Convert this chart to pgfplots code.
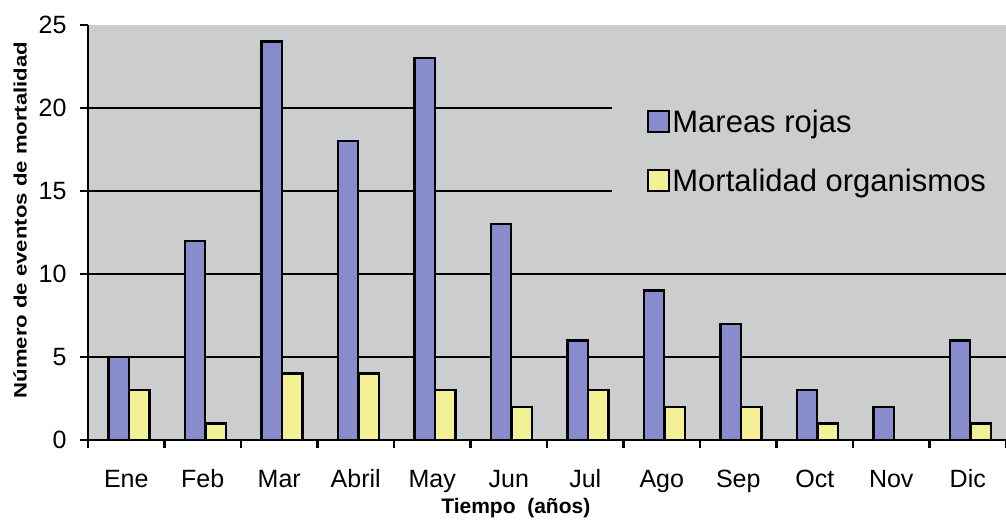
\documentclass[border=0pt]{standalone}
\usepackage{pgfplots}
\pgfplotsset{compat=1.18}
\usepackage{fontspec}
\setmainfont{Liberation Sans}
\definecolor{bgc}{RGB}{204,205,206}
\definecolor{barblue}{RGB}{136,140,204}
\definecolor{baryel}{RGB}{244,240,150}
\begin{document}
\begin{tikzpicture}[x=1pt,y=1pt]
\useasboundingbox (-88,-85) rectangle (918,440);
\begin{axis}[
  at={(0,0)}, anchor=south west,
  scale only axis, width=918pt, height=415pt,
  xmin=-0.5, xmax=11.5, ymin=0, ymax=25,
  ybar, bar width=0.265,
  axis x line*=bottom, axis y line*=left,
  axis line style={line width=2.6pt, black, -},
  axis background/.style={fill=bgc},
  tick align=outside,
  major tick length=8pt,
  tick style={black, line width=2.6pt},
  xtick={-0.5,0.5,...,11.5},
  x tick label as interval,
  xticklabels={Ene,Feb,Mar,Abril,May,Jun,Jul,Ago,Sep,Oct,Nov,Dic},
  xticklabel style={anchor=base, yshift=-39pt},
  ytick={0,5,...,25},
  extra y ticks={5,10,15,20},
  extra y tick labels={},
  extra y tick style={grid=major, major tick length=0pt},
  major grid style={black, line width=2.2pt},
  /pgf/number format/assume math mode=true,
  ticklabel style={font=\fontsize{25}{30}\selectfont},
  yticklabel style={xshift=-10pt},
  xlabel={Tiempo\ \ (años)},
  xlabel style={font=\fontsize{21}{25}\selectfont\bfseries, at={(axis description cs:0.466,-0.176)}, anchor=base},
  ylabel={\scalebox{1.23}[1]{Número de eventos de mortalidad}},
  ylabel style={font=\fontsize{18}{22}\selectfont\bfseries, at={(axis description cs:-0.074,0.53)}, anchor=center},
  legend style={at={(0.571,0.815)}, anchor=north west, fill=bgc, draw=none,
    font=\fontsize{31}{36}\selectfont, row sep=31pt, inner xsep=35pt, inner ysep=6pt,
    legend cell align=left},
  legend image code/.code={\draw[#1,draw=black,line width=2pt] (0pt,-10.5pt) rectangle (21pt,10.5pt);},
]
\addplot[fill=barblue, draw=black, line width=2.4pt, bar shift=-0.1] coordinates {
(0,5) (1,12) (2,24) (3,18) (4,23) (5,13) (6,6) (7,9) (8,7) (9,3) (10,2) (11,6)};
\addplot[fill=baryel, draw=black, line width=2.4pt, bar shift=0.17] coordinates {
(0,3) (1,1) (2,4) (3,4) (4,3) (5,2) (6,3) (7,2) (8,2) (9,1) (10,0) (11,1)};
\legend{Mareas rojas, Mortalidad organismos}
\end{axis}
\end{tikzpicture}
\end{document}
